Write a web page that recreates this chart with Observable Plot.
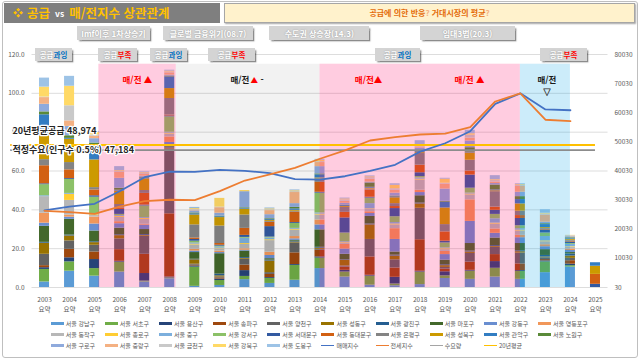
<!DOCTYPE html>
<html lang="ko">
<head>
<meta charset="utf-8">
<script src="https://cdn.jsdelivr.net/npm/d3@7"></script>
<script src="https://cdn.jsdelivr.net/npm/@observablehq/plot@0.6"></script>
<style>
html,body{margin:0;padding:0;background:#fff;}
body{font-family:"Noto Sans CJK KR","Noto Sans",sans-serif;}
#wrap{position:relative;width:640px;height:360px;overflow:hidden;background:#fff;}
#chart{position:absolute;left:0;top:0;}
.box{position:absolute;display:flex;align-items:center;justify-content:center;white-space:nowrap;box-sizing:border-box;}
.evt{background:#D4D4D4;color:#fff;font-weight:700;font-size:8px;box-shadow:1.5px 1.5px 1.5px rgba(0,0,0,.45);text-shadow:0 0 1.5px rgba(0,0,0,.35);}
.sup{background:#D4D4D4;color:#fff;font-weight:700;font-size:7.5px;box-shadow:1.5px 1.5px 1.5px rgba(0,0,0,.45);}
.sup span.w{text-shadow:0 0 1.5px rgba(0,0,0,.35);}
.leg{position:absolute;display:flex;align-items:center;font-size:6px;color:#595959;white-space:nowrap;height:8px;}
.leg i{display:inline-block;width:13px;margin-right:2px;}
</style>
</head>
<body>
<div id="wrap">
  <div id="chart"></div>
</div>
<script>
// ---------- categories ----------
const years = [2003,2004,2005,2006,2007,2008,2009,2010,2011,2012,2013,2014,2015,2016,2017,2018,2019,2020,2021,2022,2023,2024,2025];
const districts = ["서울 강남구","서울 서초구","서울 용산구","서울 송파구","서울 양천구","서울 성동구","서울 광진구","서울 마포구","서울 강동구","서울 영등포구","서울 동작구","서울 종로구","서울 중구","서울 강서구","서울 서대문구","서울 동대문구","서울 은평구","서울 성북구","서울 관악구","서울 노원구","서울 구로구","서울 중랑구","서울 금천구","서울 강북구","서울 도봉구"];
const districtColors = ["#5B9BD5","#70AD47","#264478","#9E480E","#636363","#997300","#255E91","#43682B","#698ED0","#F1975A","#B7B7B7","#FFCD33","#7CAFDD","#8CC168","#335AA1","#D26012","#848484","#CC9A00","#327DC2","#5A8A39","#8FAADC","#F4B183","#C9C9C9","#FFD966","#9DC3E6"];

// ---------- supply (households) per district, 2003..2025 ----------
const gangnam   = [1900,5600,3900,5300,1900,3000,400,700,2700,1400,2500,6500,3600,800,600,1000,3100,2800,3600,2800,5100,7000,0];
const seocho    = [4300,3200,2600,3400,300,300,6600,1700,1100,1700,5100,3600,1700,3100,600,4300,900,2800,3000,2700,3700,500,0];
const yongsan   = [600,1400,3100,300,2600,300,400,500,2000,300,300,400,600,300,2300,300,1400,300,2300,300,300,500,0];
const songpa    = [700,2900,2600,4000,6600,21700,300,400,1900,1100,4000,2300,1100,6300,3200,10800,900,2800,2400,2300,500,1200,0];
const yangcheon = [3900,2900,2300,3700,6200,22300,300,300,2000,600,3400,300,400,6000,2800,10800,600,3000,2500,3700,600,800,0];
const seongdong = [3800,1700,900,1100,300,300,1500,400,300,4000,300,400,1900,5000,1300,1500,600,500,300,500,300,800,0];
const gwangjin  = [300,300,300,300,300,300,200,600,300,300,300,300,200,300,300,300,300,300,300,300,500,700,0];
const mapo      = [5500,5400,3700,2300,1700,300,2300,7000,2200,500,300,6000,1900,2600,1100,2500,1600,2600,2600,2500,2000,500,0];
const gangdong  = [1100,750,2400,1500,1500,1300,500,400,300,1100,500,1700,1800,1000,4300,1100,1900,7600,1600,2000,1000,700,0];
const yeongdeungpo = [3400,750,2400,700,300,1900,600,500,500,1100,800,1700,1600,600,3700,800,1100,7400,1500,800,700,500,0];
const dongjak    = [5700,5000,500,1500,1700,1000,1500,800,1500,4000,2200,1700,400,800,1300,3500,600,1700,1700,1500,1000,600,0];
const jongno     = [0,2100,300,300,300,300,300,200,300,300,300,300,200,200,300,300,300,300,300,300,300,200,0];
const junggu     = [300,300,300,300,300,300,400,400,1800,600,300,400,300,1800,500,400,300,300,1500,500,1500,800,0];
const gangseo    = [3800,4800,5700,400,4000,5300,600,300,300,300,1700,6800,3000,1900,2000,500,1700,1700,1500,1000,1200,300,0];
const seodaemun  = [300,300,500,1700,300,300,600,300,700,3600,300,300,5200,300,2800,1300,600,4500,1400,2500,1000,500,1100];
const dongdaemun = [6200,3000,2000,500,4000,300,500,600,2400,1500,3600,3400,1900,2500,700,2600,3200,1400,1100,1000,300,300,3400];
const eunpyeong  = [2100,2500,800,1200,1000,5700,4500,6000,4600,300,300,1200,1700,300,1000,4000,2500,3700,5300,1500,300,300,0];
const seongbuk   = [8200,8000,9500,4600,4000,3400,3400,2900,2000,300,300,300,300,300,2000,300,5700,2500,300,2500,300,400,2800];
const gwanak     = [7200,300,5000,300,300,4000,400,300,300,300,500,1100,300,300,300,300,2000,300,300,1500,1000,300,1200];
const nowon      = [1000,900,800,700,300,300,300,200,200,300,500,300,200,1500,300,300,300,1500,1700,1000,300,200,0];
const guro       = [2600,3200,1500,3400,300,300,700,1000,5500,1400,1300,2500,600,300,1000,1000,4200,2300,500,1500,500,300,0];
const jungnang   = [2300,1900,800,2000,600,800,300,1900,0,1400,3800,1400,700,1000,1000,300,1700,1000,500,2000,2500,200,0];
const geumcheon  = [200,5200,500,300,300,300,200,200,0,300,300,300,500,500,500,500,300,1000,500,300,300,200,0];
const gangbuk    = [3400,6700,800,300,300,300,300,3000,400,300,300,500,300,300,1200,300,1400,500,300,300,300,100,0];
const dobong     = [3100,3400,400,1400,300,300,400,0,0,300,300,300,300,300,500,1400,300,1200,1400,300,1200,0,0];
const supplySeries = [gangnam,seocho,yongsan,songpa,yangcheon,seongdong,gwangjin,mapo,gangdong,yeongdeungpo,dongjak,jongno,junggu,gangseo,seodaemun,dongdaemun,eunpyeong,seongbuk,gwanak,nowon,guro,jungnang,geumcheon,gangbuk,dobong];

// ---------- index lines (left axis, 2003..2024) ----------
const saleIndex   = [39.7,41.6,43.1,49.6,56.8,59.7,59.6,60.6,60.1,58.9,55.8,55.6,57.3,60.1,63.2,70.0,74.3,80.5,94.6,100,91.7,91.3];
const jeonseIndex = [39.5,38.8,37.9,41.7,44.5,45.2,45.0,49.6,55.1,58.2,61.6,66.3,70.6,75.7,77.4,78.8,79.3,82.6,95.8,100,86.4,85.7];

// ---------- reference values ----------
const avg20 = 48974;
const demand = 47184;

// ---------- axis ticks ----------
const leftTicks = [0,20,40,60,80,100,120];
const rightTicks = [30,10030,20030,30030,40030,50030,60030,70030,80030];

// ---------- period bands ----------
const bandStart = [2005.17, 2008.26, 2014, 2022];
const bandEnd   = [2008.26, 2014, 2022, 2024];
const bandKind  = ["pink","gray","pink","blue"];

// ---------- legend / annotations text ----------
const lineNames = ["매매지수","전세지수","수요량","20년평균"];
const events = ["Imf이후 1차상승기","글로벌 금융위기(08.7)","수도권 상승장(14.3)","임대3법(20.3)"];
const supplyTags = ["과잉","부족","과잉","부족","과잉","부족"];

// ================= build =================
const toY = v => 30 + v * 80000 / 120;          // left index -> right axis units
const bandStyle = {pink: ["#FF0066", 0.2], gray: ["#000000", 0.05], blue: ["#00A2E8", 0.2]};

const stacked = [];
years.forEach((year, i) => {
  let base = 30;
  supplySeries.forEach((vals, k) => {
    const v = vals[i];
    if (v > 0) stacked.push({year, district: districts[k], y1: base, y2: base + v});
    base += v;
  });
});
const saleRows = saleIndex.map((v, i) => ({year: years[i], y: toY(v)}));
const jeonseRows = jeonseIndex.map((v, i) => ({year: years[i], y: toY(v)}));
const bands = bandStart.map((s, i) => ({x1: s, x2: bandEnd[i], kind: bandKind[i]}));

const bandLabelX = [2006.71, 2015.94, 2019.97];
const grayLabelX = 2011.2;
const blueLabelX = 2023.06;
const labelY = toY(106.6);

const font = '"Noto Sans CJK KR", "Noto Sans", sans-serif';
const chart = Plot.plot({
  width: 640, height: 360,
  marginTop: 54, marginBottom: 73, marginLeft: 31.5, marginRight: 32.5,
  x: {domain: [2002.5, 2025.5]},
  y: {domain: [30, 80030]},
  color: {domain: districts, range: districtColors},
  style: {fontFamily: font, background: "transparent", overflow: "visible", fontSize: "7px"},
  marks: [
    Plot.ruleY(leftTicks.map(toY), {stroke: "#D9D9D9", strokeWidth: 0.9}),
    Plot.rect(stacked, {x1: d => d.year - 0.2, x2: d => d.year + 0.2, y1: "y1", y2: "y2", fill: "district"}),
    ...bands.map(b => Plot.rect([b], {x1: "x1", x2: "x2", y1: () => 30, y2: () => toY(115),
      fill: bandStyle[b.kind][0], fillOpacity: bandStyle[b.kind][1]})),
    Plot.axisY(leftTicks.map(toY), {anchor: "left", tickFormat: v => ((v - 30) * 120 / 80000).toFixed(1),
      tickSize: 0, tickPadding: 7.5, fontSize: 6.5, fill: "#595959", label: null}),
    Plot.axisY(rightTicks, {anchor: "right", tickFormat: d => String(d), tickSize: 0, tickPadding: 6.5,
      fontSize: 6.5, fill: "#595959", label: null}),
    Plot.axisX(years, {tickFormat: d => `${d}\n요약`, tickSize: 0, tickPadding: 7, fontSize: 6.5,
      lineHeight: 1.57, fill: "#595959", label: null}),
    Plot.ruleY([demand], {x1: () => 2001.65, x2: () => 2025, stroke: "#8C8C8C", strokeWidth: 1.8}),
    Plot.ruleY([avg20], {x1: () => 2001.65, x2: () => 2025, stroke: "#FFC000", strokeWidth: 2}),
    Plot.line(saleRows, {x: "year", y: "y", stroke: "#4472C4", strokeWidth: 1.8}),
    Plot.line(jeonseRows, {x: "year", y: "y", stroke: "#ED7D31", strokeWidth: 1.8}),
    Plot.text([avg20], {x: () => 2001.72, y: d => d, dy: -13.5, text: d => `20년평균공급 ${d3.format(",")(d)}`,
      textAnchor: "start", fontSize: 9, fontWeight: "bold", fill: "#262626", stroke: "#ffffff", strokeWidth: 2.4}),
    Plot.text([demand], {x: () => 2001.72, y: d => d, dy: 0, text: d => `적정수요(인구수 0.5%) ${d3.format(",")(d)}`,
      textAnchor: "start", fontSize: 9, fontWeight: "bold", fill: "#262626", stroke: "#ffffff", strokeWidth: 2.4}),
    Plot.text(bandLabelX, {x: d => d, y: () => labelY, text: (d, i) => i === 1 ? "매/전▲" : "매/전 ▲",
      fill: "#FF0000", fontSize: 8.5, fontWeight: "bold"}),
    Plot.text([grayLabelX], {x: d => d, y: () => labelY, text: () => "매/전", textAnchor: "end", dx: -0.5, fill: "#1a1a1a", fontSize: 8.5, fontWeight: "bold"}),
    Plot.text([grayLabelX], {x: d => d, y: () => labelY, text: () => "▲", textAnchor: "start", dx: 0.5, fill: "#FF0000", fontSize: 7.5, fontWeight: "bold"}),
    Plot.text([grayLabelX], {x: d => d, y: () => labelY, text: () => "-", textAnchor: "start", dx: 10.5, fill: "#1a1a1a", fontSize: 8.5, fontWeight: "bold"}),
    Plot.text([blueLabelX], {x: d => d, y: () => labelY, text: () => "매/전", fill: "#1a1a1a", fontSize: 8.5, fontWeight: "bold"}),
    Plot.text([blueLabelX], {x: d => d, y: () => toY(100.2), text: () => "▽", fill: "#333", stroke: "#555", strokeWidth: 0.4, fontSize: 7.5, fontWeight: "bold"})
  ]
});
document.getElementById("chart").appendChild(chart);

// ================= overlays =================
const wrap = document.getElementById("wrap");
function add(html) { wrap.insertAdjacentHTML("beforeend", html); }

// outer border
add(`<div style="position:absolute;left:1.5px;top:1px;width:636px;height:357px;border:1.2px solid #BFBFBF;border-radius:3px;box-sizing:border-box;pointer-events:none"></div>`);
// title
add(`<div class="box" style="left:4px;top:3px;width:216px;height:19.5px;background:#7F7F7F;justify-content:flex-start;padding-left:9px;">
<span style="color:#FFC000;font-size:10px;">❖</span><span style="color:#FFC000;font-size:12.5px;font-weight:700;margin-left:4px">공급</span><span style="color:#fff;font-size:8.5px;font-weight:700;margin:0 5px 0 5px">vs</span><span style="color:#FFC000;font-size:12.5px;font-weight:700">매/전지수 상관관계</span></div>`);
// question box
add(`<div class="box" style="left:224px;top:3px;width:411px;height:19.5px;background:#FFF2CC;border:1px solid #A6A6A6;box-shadow:1px 1px 1.5px rgba(0,0,0,.35);color:#E46C0A;font-size:8px;font-weight:700;">공급에 의한 반응<span style="color:#F4B183">?</span>&nbsp;거대시장의 평균<span style="color:#F4B183">?</span></div>`);
// event boxes
const evtPos = [[77,73],[162.7,90.6],[269.3,100],[420,95]];
events.forEach((t, i) => add(`<div class="box evt" style="left:${evtPos[i][0]}px;top:26px;width:${evtPos[i][1]}px;height:14px;">${t}</div>`));
// supply boxes
const supPos = [[35,37],[98,39],[150,37],[208,47],[375,45],[540,47]];
supplyTags.forEach((t, i) => add(`<div class="box sup" style="left:${supPos[i][0]}px;top:48.3px;width:${supPos[i][1]}px;height:12.4px;"><span class="w">공급</span><span style="color:${t === "과잉" ? "#0070C0" : "#FF0000"}">${t}</span></div>`));
// legend
const legRowsY = [323.3, 334.3, 345.7];
const legItems = districts.map((d, k) => ({name: d, color: districtColors[k], line: false}))
  .concat(lineNames.map((n, i) => ({name: n, color: ["#4472C4","#ED7D31","#A5A5A5","#FFC000"][i], line: true})));
legItems.forEach((it, i) => {
  const col = i % 10, row = Math.floor(i / 10);
  const left = 50.7 + 54.15 * col;
  const top = legRowsY[row] - 4;
  add(`<div class="leg" style="left:${left}px;top:${top}px;"><i style="height:${it.line ? 1.6 : 3.5}px;background:${it.color}"></i>${it.name}</div>`);
});
</script>
</body>
</html>
